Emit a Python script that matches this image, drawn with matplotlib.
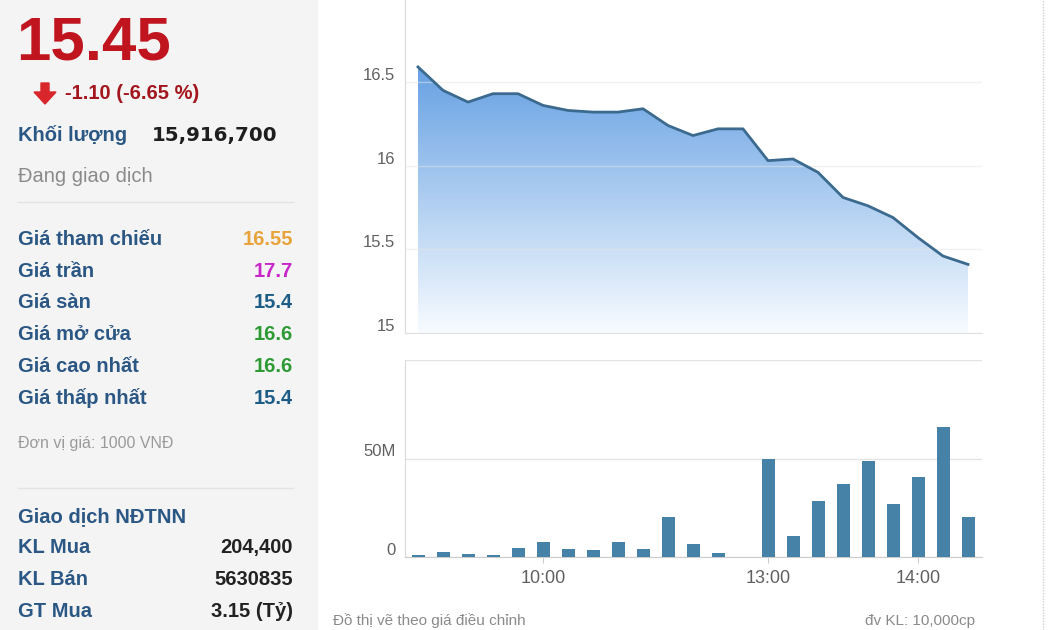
import numpy as np
import matplotlib.pyplot as plt
from matplotlib.patches import Rectangle, Polygon
from matplotlib.lines import Line2D
from matplotlib.transforms import ScaledTranslation

plt.rcParams['font.family'] = ['Liberation Sans', 'DejaVu Sans']

W, H = 1050, 630

# giá khớp theo từng mốc 10 phút (nghỉ trưa 11:30-13:00 bị gộp lại)
price = [16.59, 16.45, 16.38, 16.43, 16.43, 16.36, 16.33, 16.32, 16.32, 16.34,
         16.24, 16.18, 16.22, 16.22, 16.03, 16.04, 15.96, 15.81, 15.76, 15.69,
         15.57, 15.46, 15.41]
# khối lượng (triệu) theo cùng mốc
volume = [0.9, 2.6, 1.7, 0.9, 4.8, 7.5, 4.1, 3.3, 7.5, 4.1, 20.2, 6.7, 1.9, 0,
          49.5, 10.6, 28.3, 37.3, 48.6, 26.7, 40.6, 65.8, 20.2]
time_pos = [5, 14, 20]
time_labels = ['10:00', '13:00', '14:00']
price_ticks = [15, 15.5, 16, 16.5]
price_tick_labels = ['15', '15.5', '16', '16.5']
vol_ticks = [0, 50, 100]
vol_tick_labels = ['0', '50M', '']

info_labels = ['Giá tham chiếu', 'Giá trần', 'Giá sàn', 'Giá mở cửa', 'Giá cao nhất', 'Giá thấp nhất']
info_values = ['16.55', '17.7', '15.4', '16.6', '16.6', '15.4']
info_colors = ['#e8a33a', '#c926c9', '#1d5c86', '#2e9a34', '#2e9a34', '#1d5c86']
foreign_labels = ['KL Mua', 'KL Bán', 'GT Mua']
foreign_values = ['204,400', '5630835', '3.15 (Tỷ)']

BLUE = '#2b5784'
GRAY_TXT = '#8a8a8a'


def fx(x):
    return x / W


def fy(y):
    return 1 - y / H


fig = plt.figure(figsize=(10.5, 6.3), dpi=100)
fig.patch.set_facecolor('white')

# khung bên trái
fig.add_artist(Rectangle((0, 0), fx(317), 1, transform=fig.transFigure,
                         color='#f4f4f4', zorder=0))
for yy in [202, 488]:
    fig.add_artist(Line2D([fx(18), fx(293)], [fy(yy), fy(yy)], transform=fig.transFigure,
                          color='#e3e3e3', lw=1))
fig.add_artist(Line2D([fx(1043), fx(1043)], [0, 1], transform=fig.transFigure,
                      color='#cfcfcf', lw=1, ls=(0, (1, 1))))

fig.text(fx(16), fy(59), '15.45', fontsize=44.5, fontweight='bold', color='#c0141f', va='baseline')
arrow = [(41, 83), (49, 83), (49, 92), (56, 92), (45, 104), (34, 92), (41, 92)]
fig.add_artist(Polygon([(fx(a), fy(b)) for a, b in arrow], closed=True,
                       transform=fig.transFigure, color='#d9262b'))
fig.text(fx(65), fy(99), '-1.10 (-6.65 %)', fontsize=14.5, fontweight='bold', color='#a3161e', va='baseline')
fig.text(fx(18), fy(141), 'Khối lượng', fontsize=14.5, fontweight='bold', color=BLUE, va='baseline')
fig.text(fx(277), fy(141), '15,916,700', fontsize=14.3, fontweight='bold', color='#1e1e1e',
         va='baseline', ha='right', family='DejaVu Sans')
fig.text(fx(18), fy(182), 'Đang giao dịch', fontsize=14.5, color=GRAY_TXT, va='baseline')

for i, (lab, val, col) in enumerate(zip(info_labels, info_values, info_colors)):
    yb = 245 + 31.7 * i
    fig.text(fx(18), fy(yb), lab, fontsize=14.5, fontweight='bold', color=BLUE, va='baseline')
    fig.text(fx(293), fy(yb), val, fontsize=14.5, fontweight='bold', color=col, va='baseline', ha='right')

fig.text(fx(18), fy(448), 'Đơn vị giá: 1000 VNĐ', fontsize=11.5, color='#9a9a9a', va='baseline')
fig.text(fx(18), fy(522), 'Giao dịch NĐTNN', fontsize=14.5, fontweight='bold', color=BLUE, va='baseline')
for i, (lab, val) in enumerate(zip(foreign_labels, foreign_values)):
    yb = 553 + 32 * i
    fig.text(fx(18), fy(yb), lab, fontsize=14.5, fontweight='bold', color=BLUE, va='baseline')
    fig.text(fx(293), fy(yb), val, fontsize=14.5, fontweight='bold', color='#222222', va='baseline', ha='right')

# biểu đồ giá
x = np.arange(len(price))
ax1 = fig.add_axes([fx(405), fy(333), fx(982) - fx(405), 333 / H])
fill = ax1.fill_between(x, price, 15, color='none', lw=0)
top = np.array([0.40, 0.63, 0.89])
bot = np.array([0.97, 0.985, 1.0])
t = np.linspace(0, 1, 256)[:, None]
grad = (top + (bot - top) * t)[:, None, :]
img = ax1.imshow(grad, extent=[x[0], x[-1], 15, max(price)], aspect='auto', origin='upper', zorder=0)
img.set_clip_path(fill.get_paths()[0], transform=ax1.transData)
ax1.plot(x, price, color='#3b6a8e', lw=2, zorder=3)
ax1.set_xlim(-0.52, 22.56)
ax1.set_ylim(15, 16.99)
ax1.set_yticks(price_ticks)
ax1.set_yticklabels(price_tick_labels)
ax1.set_xticks([])
ax1.set_axisbelow('line')
ax1.grid(axis='y', color='#e4e4e4', lw=1, alpha=0.5)
for s in ['top', 'right']:
    ax1.spines[s].set_visible(False)
ax1.spines['left'].set_color('#d9d9d9')
ax1.spines['bottom'].set_color('#e0e0e0')
ax1.tick_params(axis='y', length=0, pad=7, labelsize=12, labelcolor='#606060')

# biểu đồ khối lượng
ax2 = fig.add_axes([fx(405), fy(557), fx(982) - fx(405), (557 - 360) / H])
ax2.bar(x, volume, width=0.52, color='#4682a8', zorder=3)
ax2.set_xlim(-0.52, 22.56)
ax2.set_ylim(0, 100)
ax2.set_yticks(vol_ticks)
ax2.set_yticklabels(vol_tick_labels)
ax2.set_xticks(time_pos)
ax2.set_xticklabels(time_labels)
ax2.grid(axis='y', color='#e4e4e4', lw=1)
ax2.set_axisbelow(True)
for s in ['top', 'right']:
    ax2.spines[s].set_visible(False)
ax2.spines['left'].set_color('#d9d9d9')
ax2.spines['bottom'].set_color('#cccccc')
ax2.tick_params(axis='y', length=0, pad=7, labelsize=12, labelcolor='#606060')
ax2.tick_params(axis='x', length=4.5, color='#cccccc', pad=5, labelsize=13, labelcolor='#606060')

# nhãn trục y nằm phía trên đường lưới
up = ScaledTranslation(0, 0.08, fig.dpi_scale_trans)
for ax in [ax1, ax2]:
    for tk in ax.yaxis.get_major_ticks():
        tk.label1.set_transform(tk.label1.get_transform() + up)

fig.text(fx(333), fy(625), 'Đồ thị vẽ theo giá điều chỉnh', fontsize=11, color='#8a8a8a', va='baseline')
fig.text(fx(865), fy(625), 'đv KL: 10,000cp', fontsize=11, color='#8a8a8a', va='baseline')

fig.savefig('out.png', dpi=100)
